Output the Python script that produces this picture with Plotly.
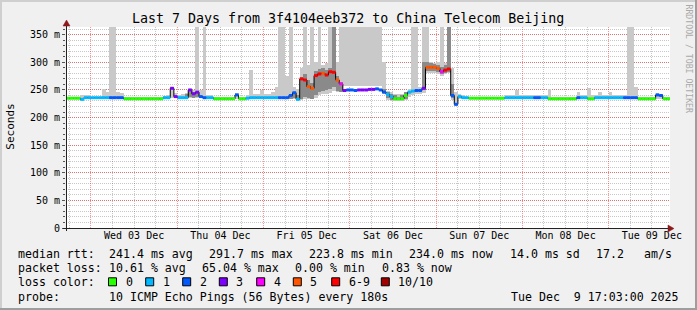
import plotly.graph_objects as go
import pandas as pd

# ---------------- data (one step = 1 hour, starting 2025-12-02 17:03) ----------------
median_ms = [235, 235, 235, 235, 233, 236, 236, 236, 236, 236, 236, 236, 236, 236, 236, 236,
             234, 234, 234, 234, 234, 234, 234, 234, 234, 234, 234, 236, 236, 253, 238,
             236, 236, 236, 250, 243, 246, 238, 236, 236, 236,
             234, 234, 234, 234, 234, 234, 241, 234, 234, 235,
             236, 236, 236, 236, 236, 236, 236, 236, 236, 236, 236, 240, 245, 233,
             270, 268, 256, 253, 276, 279, 280, 277, 283, 282, 268, 261,
             249, 250, 250, 249, 250, 250, 250, 251, 251, 252, 250, 246,
             242, 238, 234, 234, 234, 240, 246, 248, 249, 249, 253,
             291, 291, 291, 289, 283, 286, 288, 240, 224, 238, 236, 236,
             235, 235, 235, 235, 235, 235, 235, 235, 235, 235,
             236, 236, 236, 236, 236, 236, 236, 236, 236, 236, 236, 236,
             234, 234, 234, 234, 234, 234, 234, 234, 236, 236, 236, 234, 234,
             236, 236, 236, 236, 236, 236, 236, 236, 236, 236, 236, 236,
             234, 234, 234, 234, 234, 241, 240, 234, 234]

loss_count = [0, 0, 0, 0, 1, 1, 1, 1, 1, 1, 1, 1, 2, 2, 2, 2,
              0, 0, 0, 0, 0, 0, 0, 0, 0, 0, 0, 1, 1, 3, 3,
              1, 1, 1, 3, 3, 3, 2, 2, 1, 1,
              0, 0, 0, 0, 0, 0, 2, 0, 0, 1,
              1, 1, 1, 1, 1, 1, 1, 1, 2, 2, 2, 2, 2, 1,
              6, 6, 5, 5, 6, 6, 5, 6, 6, 6, 5, 4,
              3, 2, 2, 2, 3, 3, 3, 3, 3, 2, 2, 2,
              1, 1, 0, 0, 0, 0, 1, 1, 2, 2, 3,
              5, 5, 5, 5, 4, 6, 6, 2, 2, 1, 1, 1,
              0, 0, 0, 0, 0, 0, 0, 0, 0, 0,
              1, 1, 1, 1, 1, 1, 1, 1, 2, 2, 1, 1,
              0, 0, 0, 0, 0, 0, 0, 0, 2, 1, 1, 0, 0,
              1, 1, 1, 1, 1, 1, 1, 1, 2, 2, 2, 2,
              0, 0, 0, 0, 0, 2, 2, 0, 0]

smoke_top = [238, 238, 238, 238, 240, 241, 240, 238, 238, 238, 251, 246, 400, 400, 246, 244,
             237, 237, 237, 237, 237, 237, 237, 237, 237, 237, 238, 239, 240,
             256, 245, 240, 242, 244, 252, 250, 400, 250, 400, 241, 240,
             237, 237, 237, 237, 237, 237, 244, 238, 238, 240,
             287, 242, 242, 250, 242, 243, 246, 256, 400, 400, 276, 400, 256, 252,
             290, 400, 295, 400, 300, 400, 296, 298, 400, 400, 300, 400,
             400, 400, 400, 400, 400, 400, 400, 400, 400, 400, 400, 300,
             248, 246, 242, 242, 243, 246, 252,
             400, 400, 256, 400, 400, 300, 298, 300, 400, 298, 400, 290, 246, 242, 240,
             238, 238, 238, 238, 238, 238, 238, 238, 238, 238, 238,
             240, 240, 240, 250, 240, 240, 240, 240, 240, 240, 240, 240,
             251, 238, 238, 238, 238, 238, 238, 238,
             247, 240, 240, 253, 240, 240,
             247, 241, 241, 246, 241, 241, 241, 240, 400, 400, 255,
             238, 238, 238, 238, 238, 244, 243, 237, 237]

smoke_bottom = [233, 233, 233, 233, 231, 234, 234, 234, 234, 234, 234, 234, 234, 234, 234, 234,
                232, 232, 232, 232, 232, 232, 232, 232, 232, 232, 232, 234, 234,
                236, 235, 234, 234, 234, 236, 235, 236, 235, 234, 234, 234,
                232, 232, 232, 232, 232, 232, 234, 232, 232, 233,
                234, 234, 234, 234, 234, 234, 234, 234, 234, 234, 234, 234, 234, 231,
                232, 234, 234, 233, 236, 240, 242, 242, 245, 248, 246, 246,
                258, 258, 258, 258, 258, 258, 258, 258, 258, 258, 258, 242,
                232, 230, 230, 230, 230, 232, 238, 240, 242, 242, 244,
                280, 280, 280, 279, 276, 278, 280, 232, 221, 234, 234, 234,
                233, 233, 233, 233, 233, 233, 233, 233, 233, 233,
                234, 234, 234, 234, 234, 234, 234, 234, 234, 234, 234, 234,
                232, 232, 232, 232, 232, 232, 232, 232, 234, 234, 234, 232, 232,
                234, 234, 234, 234, 234, 234, 234, 234, 234, 234, 234, 234,
                232, 232, 232, 232, 232, 234, 234, 232, 232]

core_steps = [33, 34, 35, 36, 62, 63, 64,
              65, 66, 67, 68, 69, 70, 71, 72, 73, 74, 75, 76,
              88, 89, 90, 91, 92, 93, 94,
              99, 100, 101, 102, 103, 104, 105, 106, 107]
core_bottom = [236, 238, 236, 238, 234, 236, 232,
               234, 238, 236, 234, 240, 246, 248, 250, 252, 255, 248, 246,
               244, 236, 232, 231, 231, 232, 234,
               250, 284, 284, 284, 282, 278, 280, 282, 236]
core_top = [242, 250, 246, 247, 242, 246, 240,
            274, 278, 268, 262, 285, 288, 290, 286, 290, 400, 276, 265,
            252, 246, 243, 240, 238, 240, 246,
            300, 300, 298, 297, 296, 292, 295, 400, 260]

loss_colors = ["#26ff00", "#00b8ff", "#0059ff", "#7e00ff", "#ff00ff", "#ff5500", "#ff0000", "#a10000"]
loss_labels = ["0", "1", "2", "3", "4", "5", "6-9", "10/10"]

y_tick_values = [0, 50, 100, 150, 200, 250, 300, 350]
y_tick_labels = ["0", "50 m", "100 m", "150 m", "200 m", "250 m", "300 m", "350 m"]

title_text = "Last 7 Days from 3f4104eeb372 to China Telecom Beijing"
median_stats = ["241.4 ms avg", "291.7 ms max", "223.8 ms min", "234.0 ms now", "14.0 ms sd", "17.2", "am/s"]
loss_stats = ["10.61 % avg", "65.04 % max", "0.00 % min", "0.83 % now"]
probe_text = "10 ICMP Echo Pings (56 Bytes) every 180s"
stamp_text = "Tue Dec\u00a0\u00a09 17:03:00 2025"

# ---------------- geometry ----------------
W, H = 697, 310
ML, MR, MT, MB = 66, 27, 27, 82
PW = W - ML - MR
PH = H - MT - MB


def px(x):
    return (x - ML) / PW


def py(y):
    return (MT + PH - y) / PH


start = pd.Timestamp("2025-12-02 17:03:00")
end = pd.Timestamp("2025-12-09 17:03:00")
step = pd.Timedelta(hours=1)
n = len(median_ms)
t_start = [start + i * step for i in range(n)]
t_end = [start + (i + 1) * step for i in range(n)]
t_mid = [start + (i + 0.5) * step for i in range(n)]
STEP_MS = 3600 * 1000

fig = go.Figure()

# smoke: outer spread
fig.add_trace(go.Bar(
    x=t_mid, base=smoke_bottom,
    y=[h - l for h, l in zip(smoke_top, smoke_bottom)],
    width=STEP_MS, marker=dict(color="#c9c9c9", line=dict(width=0)),
    hoverinfo="skip"))
# smoke: inner spread
fig.add_trace(go.Bar(
    x=[t_mid[i] for i in core_steps], base=core_bottom,
    y=[h - l for h, l in zip(core_top, core_bottom)],
    width=STEP_MS, marker=dict(color="#8a8a8a", line=dict(width=0)),
    hoverinfo="skip"))

# thin black median line (stepped)
fig.add_trace(go.Scatter(
    x=t_start + [end], y=median_ms + [median_ms[-1]],
    mode="lines", line=dict(color="#000000", width=1, shape="hv"),
    hoverinfo="skip"))


def level(c):
    if c <= 5:
        return c
    return 6 if c < 10 else 7


for k, col in enumerate(loss_colors):
    xs, ys = [], []
    for i in range(n):
        if level(loss_count[i]) == k:
            xs += [t_start[i], t_end[i], None]
            ys += [median_ms[i], median_ms[i], None]
    if xs:
        fig.add_trace(go.Scatter(x=xs, y=ys, mode="lines",
                                 line=dict(color=col, width=3), hoverinfo="skip"))

MONO = "DejaVu Sans Mono"
MAJ_GRID = "rgba(255,0,0,0.42)"
MIN_GRID = "rgba(0,0,0,0.22)"

fig.update_layout(
    width=W, height=H,
    margin=dict(l=ML, r=MR, t=MT, b=MB, pad=0),
    paper_bgcolor="#f0f0f0", plot_bgcolor="#ffffff",
    showlegend=False, barmode="overlay", bargap=0,
    font=dict(family=MONO, size=10, color="#000000"),
    xaxis=dict(
        type="date", range=[start, end],
        tickmode="linear", tick0="2025-12-03", dtick=86400000,
        ticklabelmode="period", tickformat="%a %d %b",
        tickfont=dict(family=MONO, size=10, color="#000000"),
        showgrid=True, gridcolor=MAJ_GRID, griddash="1px,1px", gridwidth=1,
        minor=dict(tick0="2025-12-03", dtick=21600000, showgrid=True,
                   gridcolor=MIN_GRID, griddash="1px,1px"),
        ticks="", showline=False, zeroline=False, fixedrange=True,
    ),
    yaxis=dict(
        range=[0, 364], tickmode="array",
        tickvals=y_tick_values, ticktext=y_tick_labels,
        tickfont=dict(family=MONO, size=10, color="#000000"),
        showgrid=True, gridcolor=MAJ_GRID, griddash="1px,1px", gridwidth=1,
        minor=dict(tickmode="linear", tick0=0, dtick=10, showgrid=True,
                   gridcolor=MIN_GRID, griddash="1px,1px",
                   ticks="outside", ticklen=2, tickcolor="#555555"),
        ticks="outside", ticklen=3, tickcolor="#555555",
        showline=False, zeroline=False, fixedrange=True,
    ),
)

shapes = []
# frame shading
shapes.append(dict(type="rect", xref="paper", yref="paper", x0=px(0), x1=px(W), y0=py(0), y1=py(2),
                   fillcolor="#cfcfcf", line=dict(width=0), layer="below"))
shapes.append(dict(type="rect", xref="paper", yref="paper", x0=px(0), x1=px(2), y0=py(0), y1=py(H),
                   fillcolor="#cfcfcf", line=dict(width=0), layer="below"))
shapes.append(dict(type="rect", xref="paper", yref="paper", x0=px(0), x1=px(W), y0=py(H - 2), y1=py(H),
                   fillcolor="#9e9e9e", line=dict(width=0), layer="below"))
shapes.append(dict(type="rect", xref="paper", yref="paper", x0=px(W - 2), x1=px(W), y0=py(0), y1=py(H),
                   fillcolor="#9e9e9e", line=dict(width=0), layer="below"))
# axis lines
shapes.append(dict(type="line", xref="paper", yref="paper", x0=px(63), x1=px(669), y0=py(228.5), y1=py(228.5),
                   line=dict(color="#222222", width=1)))
shapes.append(dict(type="line", xref="paper", yref="paper", x0=px(66.5), x1=px(66.5), y0=py(231), y1=py(25),
                   line=dict(color="#222222", width=1)))
# arrow heads
shapes.append(dict(type="path", xref="paper", yref="paper",
                   path=f"M {px(668)},{py(225)} L {px(674)},{py(228.5)} L {px(668)},{py(232)} Z",
                   fillcolor="#8b1a1a", line=dict(color="#8b1a1a", width=0.5)))
shapes.append(dict(type="path", xref="paper", yref="paper",
                   path=f"M {px(63)},{py(26)} L {px(66.5)},{py(20)} L {px(70)},{py(26)} Z",
                   fillcolor="#8b1a1a", line=dict(color="#8b1a1a", width=0.5)))

annotations = []


def text(s, x, y, size=11.6, anchor="left", color="#000000", angle=0):
    annotations.append(dict(text=s, xref="paper", yref="paper", x=px(x), y=py(y),
                            xanchor=anchor, yanchor="middle", showarrow=False,
                            textangle=angle, font=dict(family=MONO, size=size, color=color)))


text(title_text, 348, 19, size=13.3, anchor="center")
text("Seconds", 10.7, 127, size=11, anchor="center", angle=-90)
text("RRDTOOL / TOBI OETIKER", 688.5, 59, size=8.2, anchor="center", color="#a9a9a9", angle=90)

ROW = [253.5, 268.2, 282.0, 296.5]
text("median rtt:", 16, ROW[0])
for s, x in zip(median_stats, [107.3, 207.3, 307.3, 407, 507.7, 593.7, 642]):
    text(s, x, ROW[0])
text("packet loss:", 16, ROW[1])
for s, x in zip(loss_stats, [107.3, 200, 293.3, 379.7]):
    text(s, x, ROW[1])
text("loss color:", 16, ROW[2])
for lab, col, x in zip(loss_labels, loss_colors, [108.5, 145.7, 182.7, 219.3, 256.7, 293.3, 331.7, 381.3]):
    shapes.append(dict(type="rect", xref="paper", yref="paper", x0=px(x), x1=px(x + 8),
                       y0=py(ROW[2] - 4.2), y1=py(ROW[2] + 3.8),
                       fillcolor=col, line=dict(color="#000000", width=1)))
    text(lab, x + 15, ROW[2])
text("probe:", 16, ROW[3])
text(probe_text, 107.3, ROW[3])
text(stamp_text, 680.5, ROW[3], anchor="right")

fig.update_layout(shapes=shapes, annotations=annotations)
fig.write_html("out.html", config={"displayModeBar": False})
